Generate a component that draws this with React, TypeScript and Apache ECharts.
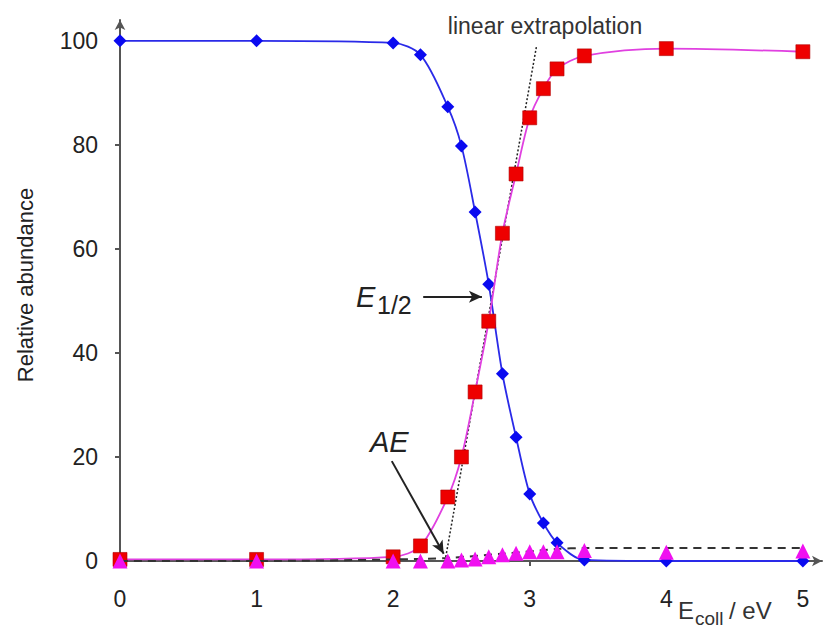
import React, { useEffect, useRef } from "react";
import * as echarts from "echarts";

const xValues = [0, 1, 2, 2.2, 2.4, 2.5, 2.6, 2.7, 2.8, 2.9, 3.0, 3.1, 3.2, 3.4, 4, 5];
const blueValues = [100, 100, 99.6, 97.3, 87.3, 79.8, 67.1, 53.2, 36, 23.8, 12.9, 7.3, 3.5, 0.2, 0, 0];
const redValues = [0.3, 0.3, 0.8, 2.9, 12.3, 20, 32.5, 46.1, 63, 74.4, 85.2, 90.8, 94.6, 97.1, 98.5, 97.9];
const triValues = [0, 0, 0, 0, 0, 0.2, 0.4, 0.8, 1.2, 1.5, 1.8, 1.8, 1.8, 2.0, 1.7, 1.9];
const dashX = [0, 1, 2, 2.4, 2.8, 3.2, 3.4, 4, 5];
const dashY = [0, 0, 0.3, 0.6, 1.4, 2.3, 2.5, 2.5, 2.5];
const extrapX = [2.38, 3.05];
const extrapY = [0, 99];
const xTicks = [0, 1, 2, 3, 4, 5];
const yTicks = [0, 20, 40, 60, 80, 100];
const e12Arrow = [[2.22, 50.8], [2.65, 50.8]];
const aeArrow = [[1.99, 19.2], [2.37, 1.4]];

const FONT = "'Liberation Sans', Arial, Helvetica, sans-serif";

export default function App() {
  const ref = useRef<HTMLDivElement>(null);
  useEffect(() => {
    const chart = echarts.init(ref.current!, null, { renderer: "svg" });
    const zip = (xs: number[], ys: number[]) => xs.map((x, i) => [x, ys[i]]);
    chart.setOption({
      animation: false,
      backgroundColor: "#ffffff",
      grid: { left: 120, right: 5, top: 20, bottom: 66, containLabel: false },
      xAxis: {
        type: "value",
        min: 0,
        max: 5.14,
        axisLine: {
          show: true,
          lineStyle: { color: "#555", width: 2 },
          symbol: ["none", "arrow"],
          symbolSize: [8, 10],
        },
        axisTick: { show: true, length: 5, customValues: xTicks, lineStyle: { color: "#555", width: 2 } },
        axisLabel: {
          customValues: xTicks,
          fontSize: 23,
          fontFamily: FONT,
          color: "#222",
          margin: 26,
          formatter: (v: number) => (Number.isInteger(v) ? String(v) : ""),
        },
        splitLine: { show: false },
      },
      yAxis: {
        type: "value",
        min: 0,
        max: 104,
        axisLine: {
          show: true,
          lineStyle: { color: "#555", width: 2 },
          symbol: ["none", "arrow"],
          symbolSize: [8, 10],
        },
        axisTick: { show: true, length: 5, customValues: yTicks, lineStyle: { color: "#555", width: 2 } },
        axisLabel: {
          customValues: yTicks,
          fontSize: 23,
          fontFamily: FONT,
          color: "#222",
          margin: 22,
          formatter: (v: number) => (v % 20 === 0 && v <= 100 ? String(v) : ""),
        },
        splitLine: { show: false },
      },
      series: [
        {
          name: "extrapolation",
          type: "line",
          data: zip(extrapX, extrapY),
          symbol: "none",
          clip: false,
          lineStyle: { color: "#222", width: 1.5, type: [2, 2] },
          z: 1,
          markLine: {
            silent: true,
            symbol: ["none", "arrow"],
            symbolSize: [9, 13],
            label: { show: false },
            lineStyle: { color: "#222", width: 2, type: "solid" },
            data: [
              [{ coord: e12Arrow[0] }, { coord: e12Arrow[1] }],
              [{ coord: aeArrow[0] }, { coord: aeArrow[1] }],
            ],
          },
        },
        {
          name: "blue",
          type: "line",
          data: zip(xValues, blueValues),
          smooth: 0.3,
          clip: false,
          symbol: "diamond",
          symbolSize: 13,
          itemStyle: { color: "#0a0af0" },
          lineStyle: { color: "#2a2ae8", width: 1.8 },
          z: 2,
        },
        {
          name: "red",
          type: "line",
          data: zip(xValues, redValues),
          smooth: 0.3,
          clip: false,
          symbol: "rect",
          symbolSize: 14,
          itemStyle: { color: "#ee0000", borderColor: "#b00000", borderWidth: 0.6 },
          lineStyle: { color: "#e040e0", width: 1.8 },
          z: 3,
        },
        {
          name: "dashed",
          type: "line",
          data: zip(dashX, dashY),
          smooth: 0.3,
          clip: false,
          symbol: "none",
          lineStyle: { color: "#333", width: 2, type: [8, 6] },
          z: 4,
        },
        {
          name: "triangles",
          type: "line",
          data: zip(xValues, triValues),
          clip: false,
          symbol: "triangle",
          symbolSize: 15,
          itemStyle: { color: "#f010f0" },
          lineStyle: { width: 0, opacity: 0 },
          z: 5,
        },
      ],
      graphic: [
        {
          type: "text",
          x: 25,
          y: 285,
          rotation: Math.PI / 2,
          style: {
            text: "Relative abundance",
            fontSize: 22,
            fontFamily: FONT,
            fill: "#222",
            align: "center",
            verticalAlign: "middle",
          },
        },
        {
          type: "text",
          x: 545,
          y: 26,
          style: {
            text: "linear extrapolation",
            fontSize: 23,
            fontFamily: FONT,
            fill: "#333",
            align: "center",
            verticalAlign: "middle",
          },
        },
        {
          type: "text",
          x: 356,
          y: 297,
          style: {
            text: "E",
            fontSize: 29,
            fontStyle: "italic",
            fontFamily: FONT,
            fill: "#222",
            align: "left",
            verticalAlign: "middle",
          },
        },
        {
          type: "text",
          x: 377,
          y: 305,
          style: {
            text: "1/2",
            fontSize: 25,
            fontFamily: FONT,
            fill: "#222",
            align: "left",
            verticalAlign: "middle",
          },
        },
        {
          type: "text",
          x: 370,
          y: 442,
          style: {
            text: "AE",
            fontSize: 29,
            fontStyle: "italic",
            fontFamily: FONT,
            fill: "#222",
            align: "left",
            verticalAlign: "middle",
          },
        },
        {
          type: "text",
          x: 678,
          y: 610,
          style: {
            text: "E",
            fontSize: 24,
            fontFamily: FONT,
            fill: "#333",
            align: "left",
            verticalAlign: "middle",
          },
        },
        {
          type: "text",
          x: 695,
          y: 618,
          style: {
            text: "coll",
            fontSize: 19,
            fontFamily: FONT,
            fill: "#333",
            align: "left",
            verticalAlign: "middle",
          },
        },
        {
          type: "text",
          x: 729,
          y: 610,
          style: {
            text: "/ eV",
            fontSize: 24,
            fontFamily: FONT,
            fill: "#333",
            align: "left",
            verticalAlign: "middle",
          },
        },
      ],
    });
    return () => chart.dispose();
  }, []);
  return (
    <div
      ref={ref}
      style={{ position: "fixed", left: 0, top: 0, width: 827, height: 627, background: "#fff" }}
    />
  );
}
